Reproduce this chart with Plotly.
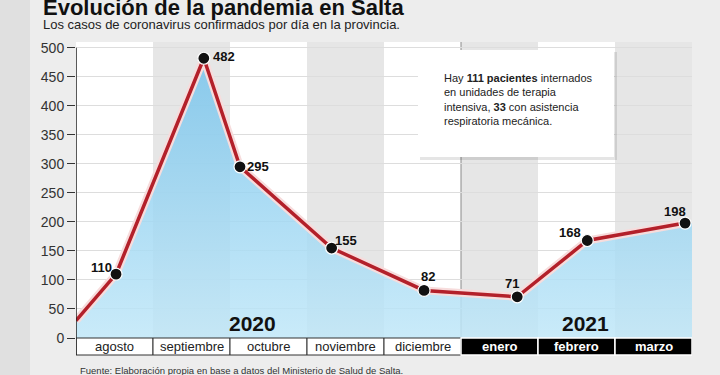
import plotly.graph_objects as go

# ---------------- data ----------------
months = ["agosto", "septiembre", "octubre", "noviembre", "diciembre", "enero", "febrero", "marzo"]
month_year = ["2020", "2020", "2020", "2020", "2020", "2021", "2021", "2021"]
years = ["2020", "2021"]
# position of each reading along the month axis (month index units)
point_pos = [0.52, 1.66, 2.13, 3.32, 4.52, 5.73, 6.64, 7.91]
cases = [110, 482, 295, 155, 82, 71, 168, 198]
start_pos = 0.0
start_value = 30
y_ticks = [0, 50, 100, 150, 200, 250, 300, 350, 400, 450, 500]

title = "Evolución de la pandemia en Salta"
subtitle = "Los casos de coronavirus confirmados por día en la provincia."
note = ("Hay <b>111 pacientes</b> internados<br>en unidades de terapia<br>"
        "intensiva, <b>33</b> con asistencia<br>respiratoria mecánica.")
source = "Fuente: Elaboración propia en base a datos del Ministerio de Salud de Salta."

# ---------------- layout geometry / styles ----------------
W, H = 720, 375
ML, MR, MT, MB = 76, 28, 42, 37
PW, PH = W - ML - MR, H - MT - MB
Y_MAX = 510
ROW = 17  # month label row height in px
FONT = "Liberation Sans, Arial, sans-serif"
# value label offsets from their point (px): (dx, dy up)
label_shift = [(-15, 7), (20, 2), (18, 0), (14, 8), (4, 14), (-5, 13), (-17, 8), (-10, 12)]
year_label_x = [2.29, 6.62]


def px_x(px):
    return (px - ML) / PW


def px_y(py):
    return (H - MB - py) / PH


row_bottom = -ROW / PH

line_x = [start_pos] + point_pos
line_y = [start_value] + cases
fill_x = line_x + [len(months)]
fill_y = line_y + [cases[-1]]

fig = go.Figure()

# area fill
fig.add_trace(go.Scatter(
    x=fill_x, y=fill_y, mode="lines", line=dict(width=0, color="rgba(0,0,0,0)"),
    fill="tozeroy",
    fillgradient=dict(type="vertical",
                      colorscale=[[0, "rgba(192,231,248,0.85)"], [1, "rgba(120,196,236,0.85)"]]),
    hoverinfo="skip", showlegend=False))
# line halo
fig.add_trace(go.Scatter(x=line_x, y=line_y, mode="lines",
                         line=dict(color="#f7dcdc", width=8), hoverinfo="skip", showlegend=False))
# red line
fig.add_trace(go.Scatter(x=line_x, y=line_y, mode="lines",
                         line=dict(color="#b3202a", width=3.5), hoverinfo="skip", showlegend=False))
# markers
fig.add_trace(go.Scatter(
    x=point_pos, y=cases, mode="markers",
    marker=dict(size=12, color="#111111", line=dict(color="white", width=1.2)),
    showlegend=False))

shapes = []
# left gray strip of the page
shapes.append(dict(type="rect", xref="paper", yref="paper", x0=px_x(0), x1=px_x(30),
                   y0=px_y(H), y1=px_y(0), fillcolor="#e0e0e0", line=dict(width=0), layer="below"))
# gray columns
for i, m in enumerate(months):
    if i % 2 == 1:
        shapes.append(dict(type="rect", xref="x", yref="paper", x0=i, x1=i + 1, y0=0, y1=1,
                           fillcolor="#e6e6e6", line=dict(width=0), layer="below"))
# separator between years
n2020 = month_year.count("2020")
shapes.append(dict(type="line", xref="x", yref="paper", x0=n2020, x1=n2020, y0=0, y1=1,
                   line=dict(color="#8a8a8a", width=1), layer="below"))
# month label cells
for i, m in enumerate(months):
    if month_year[i] == "2020":
        shapes.append(dict(type="rect", xref="x", yref="paper", x0=i, x1=i + 1, y0=row_bottom, y1=0,
                           fillcolor="white", line=dict(color="#333333", width=1)))
    else:
        shapes.append(dict(type="rect", xref="x", yref="paper", x0=i, x1=i + 1, y0=row_bottom, y1=0,
                           fillcolor="black", line=dict(color="white", width=1.5)))
# y axis line
shapes.append(dict(type="line", xref="x", yref="paper", x0=0, x1=0, y0=row_bottom,
                   y1=y_ticks[-1] / Y_MAX, line=dict(color="#222222", width=1.5)))
# note box with shadow
shapes.append(dict(type="rect", xref="paper", yref="paper", x0=px_x(420), x1=px_x(617),
                   y0=px_y(160), y1=px_y(52), fillcolor="rgba(0,0,0,0.10)", line=dict(width=0)))
shapes.append(dict(type="rect", xref="paper", yref="paper", x0=px_x(418), x1=px_x(614),
                   y0=px_y(157), y1=px_y(50), fillcolor="white", line=dict(width=0)))

annotations = []
annotations.append(dict(text="<b>" + title + "</b>", xref="paper", yref="paper",
                        x=px_x(41), y=px_y(7), xanchor="left", yanchor="middle", showarrow=False,
                        font=dict(family=FONT, size=22, color="#111111")))
annotations.append(dict(text=subtitle, xref="paper", yref="paper",
                        x=px_x(41), y=px_y(24), xanchor="left", yanchor="middle", showarrow=False,
                        font=dict(family=FONT, size=13, color="#222222")))
annotations.append(dict(text=note, xref="paper", yref="paper", align="left",
                        x=px_x(442), y=px_y(99), xanchor="left", yanchor="middle", showarrow=False,
                        font=dict(family=FONT, size=11, color="#222222")))
annotations.append(dict(text=source, xref="paper", yref="paper",
                        x=px_x(78), y=px_y(370), xanchor="left", yanchor="middle", showarrow=False,
                        font=dict(family=FONT, size=9.5, color="#333333")))
for i, m in enumerate(months):
    is21 = month_year[i] == "2021"
    annotations.append(dict(text=("<b>%s</b>" % m) if is21 else m, xref="x", yref="paper",
                            x=i + 0.5, y=row_bottom / 2, xanchor="center", yanchor="middle",
                            showarrow=False,
                            font=dict(family=FONT, size=13, color="white" if is21 else "#222222")))
for yx, yl in zip(year_label_x, years):
    annotations.append(dict(text="<b>%s</b>" % yl, xref="x", yref="paper", x=yx, y=px_y(323),
                            xanchor="center", yanchor="middle", showarrow=False,
                            font=dict(family=FONT, size=21, color="#111111")))
for px_, v, (dx, dy) in zip(point_pos, cases, label_shift):
    annotations.append(dict(text="<b>%d</b>" % v, x=px_, y=v, xref="x", yref="y",
                            xshift=dx, yshift=dy, xanchor="center", yanchor="middle",
                            showarrow=False, font=dict(family=FONT, size=13, color="#111111")))

fig.update_layout(
    width=W, height=H, margin=dict(l=ML, r=MR, t=MT, b=MB),
    paper_bgcolor="#ededed", plot_bgcolor="white",
    shapes=shapes, annotations=annotations, showlegend=False,
    xaxis=dict(range=[0, len(months)], showgrid=False, showticklabels=False, zeroline=False,
               showline=False, fixedrange=True),
    yaxis=dict(range=[0, Y_MAX], tickvals=y_ticks, ticks="outside", ticklen=8, tickwidth=1.2,
               tickcolor="#333333", showline=False, zeroline=False,
               gridcolor="#dddddd", gridwidth=1,
               tickfont=dict(family=FONT, size=14, color="#333333"), fixedrange=True),
)

fig.write_html("out.html", config={"displayModeBar": False},
               post_script="document.body.style.margin='0';document.body.style.overflow='hidden';")
